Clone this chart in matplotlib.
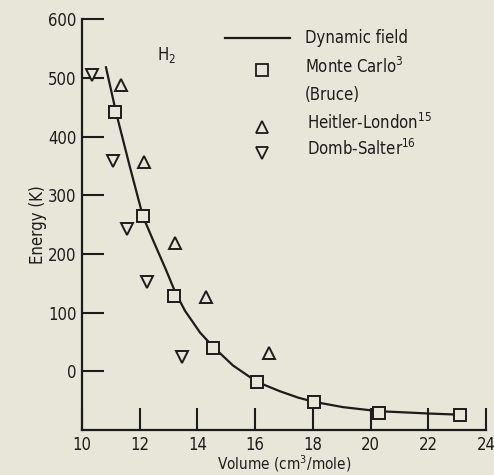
import matplotlib
matplotlib.use("Agg")
import matplotlib.pyplot as plt
from matplotlib.lines import Line2D

plt.rcParams['font.family'] = ['DejaVu Sans']
plt.rcParams['font.stretch'] = 'condensed'

# Data
dyn_x = [10.83, 11.18, 11.65, 12.11, 12.50, 12.90, 13.22, 13.57, 14.09, 14.54, 15.23, 16.06, 16.86, 17.50, 18.04, 19.04, 20.29, 21.20, 22.06, 23.15]
dyn_y = [518, 441, 350, 264, 219, 174, 136, 103, 66, 42, 10, -18, -34, -45, -52, -61, -68, -70, -72, -74]

mc_x = [11.14, 12.11, 13.17, 14.54, 16.07, 18.04, 20.29, 23.10]
mc_y = [441, 264, 128, 40, -19, -53, -71, -74]

hl_x = [11.35, 12.15, 13.22, 14.30, 16.48]
hl_y = [487, 356, 219, 127, 31]

ds_x = [10.33, 11.08, 11.55, 12.25, 13.46]
ds_y = [504, 359, 243, 152, 25]

xticks = [10, 12, 14, 16, 18, 20, 22, 24]
yticks = [0, 100, 200, 300, 400, 500, 600]

bg = '#e7e6d8'
ink = '#1c1c1c'

fig = plt.figure(figsize=(4.94, 4.75), dpi=100, facecolor=bg)
ax = fig.add_axes([0.166, 0.0947, 0.818, 0.865])
ax.set_facecolor(bg)

ax.plot(dyn_x, dyn_y, color=ink, lw=1.6, zorder=2, solid_joinstyle='round')
ms = 9
ax.plot(mc_x, mc_y, 's', ms=ms, mfc=bg, mec=ink, mew=1.4, ls='none', zorder=3)
ax.plot(hl_x, hl_y, '^', ms=ms, mfc=bg, mec=ink, mew=1.4, ls='none', zorder=3)
ax.plot(ds_x, ds_y, 'v', ms=ms, mfc=bg, mec=ink, mew=1.4, ls='none', zorder=3)

ax.set_xlim(10, 24)
ax.set_ylim(-100, 600)
ax.set_xticks(xticks)
ax.set_yticks(yticks)
for s in ['top', 'right']:
    ax.spines[s].set_visible(False)
for s in ['left', 'bottom']:
    ax.spines[s].set_color(ink)
    ax.spines[s].set_linewidth(1.6)
ax.tick_params(direction='in', length=16, width=1.5, colors=ink, labelsize=12, pad=4)
ax.tick_params(axis='y', pad=4)

ax.set_xlabel('Volume (cm$^3$/mole)', fontsize=11, color=ink, labelpad=0)
ax.set_ylabel('Energy (K)', fontsize=12, color=ink, labelpad=1)

# Legend (manual, matching layout)
fs = 12
ax.add_line(Line2D([0.354, 0.515], [0.954, 0.954], transform=ax.transAxes, color=ink, lw=1.6))
ax.text(0.552, 0.954, 'Dynamic field', transform=ax.transAxes, fontsize=fs, va='center', color=ink)
ax.plot([0.446], [0.876], 's', ms=8, mfc=bg, mec=ink, mew=1.3, transform=ax.transAxes)
ax.text(0.552, 0.883, 'Monte Carlo$^3$', transform=ax.transAxes, fontsize=fs, va='center', color=ink)
ax.text(0.552, 0.815, '(Bruce)', transform=ax.transAxes, fontsize=fs, va='center', color=ink)
ax.plot([0.446], [0.737], '^', ms=8, mfc=bg, mec=ink, mew=1.3, transform=ax.transAxes)
ax.text(0.557, 0.748, 'Heitler-London$^{15}$', transform=ax.transAxes, fontsize=fs, va='center', color=ink)
ax.plot([0.446], [0.674], 'v', ms=8, mfc=bg, mec=ink, mew=1.3, transform=ax.transAxes)
ax.text(0.557, 0.684, 'Domb-Salter$^{16}$', transform=ax.transAxes, fontsize=fs, va='center', color=ink)

ax.text(0.185, 0.912, 'H$_2$', transform=ax.transAxes, fontsize=fs, va='center', color=ink)

fig.savefig('out.png', dpi=100, facecolor=bg)
